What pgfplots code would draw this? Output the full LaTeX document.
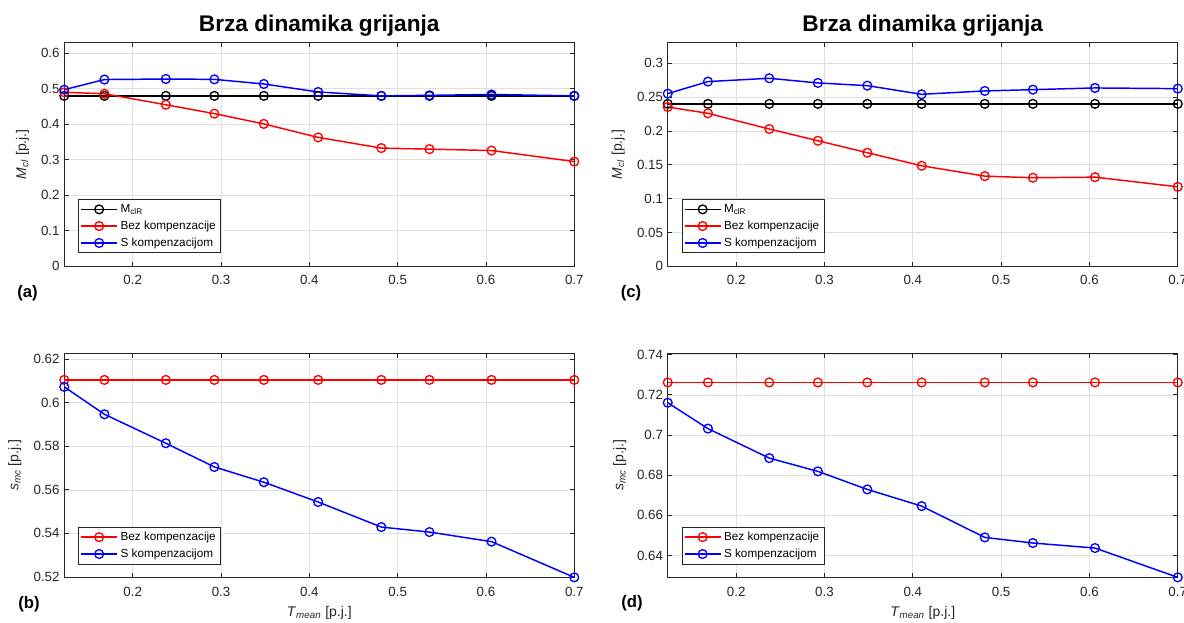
\documentclass[border=0pt]{standalone}
\usepackage{fontspec}
\setmainfont{Liberation Sans}
\usepackage{pgfplots}
\usepackage{pgfplotstable}
\pgfplotsset{compat=1.18}
\definecolor{axgray}{rgb}{0.15,0.15,0.15}
\definecolor{gridgray}{rgb}{0.88,0.88,0.88}
\definecolor{mred}{rgb}{1,0,0}
\definecolor{mblue}{rgb}{0,0,1}

\pgfplotstableread{
x      ref    bez     skomp
0.1225 0.48   0.490   0.4975
0.168  0.48   0.486   0.526
0.2375 0.48   0.455   0.5275
0.2925 0.48   0.430   0.5265
0.3485 0.48   0.401   0.5135
0.41   0.48   0.363   0.491
0.4815 0.48   0.333   0.480
0.536  0.48   0.330   0.4815
0.6063 0.48   0.326   0.484
0.7    0.48   0.295   0.480
}\dataA

\pgfplotstableread{
x      ref    bez     skomp
0.1225 0.24   0.2354  0.2551
0.168  0.24   0.2260  0.2729
0.2375 0.24   0.2028  0.2778
0.2925 0.24   0.1855  0.2709
0.3485 0.24   0.1678  0.2669
0.41   0.24   0.1485  0.2541
0.4815 0.24   0.1332  0.2591
0.536  0.24   0.1308  0.2610
0.6063 0.24   0.1317  0.2635
0.7    0.24   0.1174  0.2625
}\dataC

\pgfplotstableread{
x      bez     skomp
0.1225 0.6105  0.6073
0.168  0.6105  0.5947
0.2375 0.6105  0.5814
0.2925 0.6105  0.5705
0.3485 0.6105  0.5635
0.41   0.6105  0.5544
0.4815 0.6105  0.5429
0.536  0.6105  0.5406
0.6063 0.6105  0.5362
0.7    0.6105  0.5198
}\dataB

\pgfplotstableread{
x      bez     skomp
0.1225 0.7262  0.7161
0.168  0.7262  0.7032
0.2375 0.7262  0.6885
0.2925 0.7262  0.6819
0.3485 0.7262  0.6729
0.41   0.7262  0.6646
0.4815 0.7262  0.6490
0.536  0.7262  0.6462
0.6063 0.7262  0.6437
0.7    0.7262  0.6291
}\dataD

\pgfplotsset{
  mstyle/.style={
    scale only axis, width=382.5pt, height=168pt,
    anchor=north west,
    axis line style={axgray, line width=0.6pt},
    every tick/.style={axgray, line width=0.6pt},
    major tick length=3.5pt,
    tick align=inside,
    xmin=0.1225, xmax=0.7,
    xtick={0.2,0.3,0.4,0.5,0.6,0.7},
    xticklabels={0.2,0.3,0.4,0.5,0.6,0.7},
    grid=major, major grid style={gridgray, line width=0.5pt},
    tick label style={font=\fontsize{10}{12}\selectfont, text=axgray},
    xticklabel style={yshift=-3.5pt},
    /pgf/number format/assume math mode=true,
    scaled ticks=false,
    clip=false,
    legend style={font=\fontsize{8.8}{10.5}\selectfont, draw=axgray, line width=0.6pt,
      at={(0.027,0.058)}, anchor=south west, inner sep=1.5pt, row sep=0.8pt,
      cells={anchor=west}},
    legend image code/.code={\draw[mark repeat=2,mark phase=2,#1] plot coordinates {(0pt,0pt) (13.5pt,0pt) (27pt,0pt)};},
    ylabel style={anchor=center, font=\fontsize{10.5}{12}\selectfont, text=axgray},
    xlabel style={font=\fontsize{10.5}{12}\selectfont, text=axgray},
    title style={at={(0.5,1)}, anchor=base, yshift=2pt, font=\bfseries\fontsize{17}{20}\selectfont},
    every axis plot/.append style={line width=1.1pt, mark=o, mark size=3.3pt, mark options={line width=1pt}},
  }
}

\begin{document}
\begin{tikzpicture}
\path[use as bounding box] (0,0) rectangle (888pt,-466.5pt);

% (a)
\begin{axis}[mstyle, at={(48.2pt,-31.7pt)},
  ymin=0, ymax=0.631,
  ytick={0,0.1,0.2,0.3,0.4,0.5,0.6},
  yticklabels={0,0.1,0.2,0.3,0.4,0.5,0.6},
  ylabel={\textit{M}\textsubscript{\textit{cl}} [p.j.]},
  ylabel style={at={(axis description cs:-0.082,0.5)}},
  title={Brza dinamika grijanja}]
\addplot[black] table[x=x,y=ref] {\dataA};
\addplot[mred] table[x=x,y=bez] {\dataA};
\addplot[mblue] table[x=x,y=skomp] {\dataA};
\legend{M\textsubscript{clR},Bez kompenzacije,S kompenzacijom}
\end{axis}

% (c)
\begin{axis}[mstyle, at={(500.8pt,-31.7pt)},
  ymin=0, ymax=0.331,
  ytick={0,0.05,0.1,0.15,0.2,0.25,0.3},
  yticklabels={0,0.05,0.1,0.15,0.2,0.25,0.3},
  ylabel={\textit{M}\textsubscript{\textit{cl}} [p.j.]},
  ylabel style={at={(axis description cs:-0.097,0.5)}},
  title={Brza dinamika grijanja}]
\addplot[black] table[x=x,y=ref] {\dataC};
\addplot[mred] table[x=x,y=bez] {\dataC};
\addplot[mblue] table[x=x,y=skomp] {\dataC};
\legend{M\textsubscript{clR},Bez kompenzacije,S kompenzacijom}
\end{axis}

% (b)
\begin{axis}[mstyle, at={(48.2pt,-265pt)},
  ymin=0.5198, ymax=0.6227,
  ytick={0.52,0.54,0.56,0.58,0.6,0.62},
  yticklabels={0.52,0.54,0.56,0.58,0.6,0.62},
  ylabel={\textit{s}\textsubscript{\textit{mc}} [p.j.]},
  ylabel style={at={(axis description cs:-0.097,0.5)}},
  xlabel={\textit{T}\textsubscript{\textit{mean}} [p.j.]},
  xlabel style={at={(axis description cs:0.5,-0.176)}, anchor=base}]
\addplot[mred] table[x=x,y=bez] {\dataB};
\addplot[mblue] table[x=x,y=skomp] {\dataB};
\legend{Bez kompenzacije,S kompenzacijom}
\end{axis}

% (d)
\begin{axis}[mstyle, at={(500.8pt,-265pt)},
  ymin=0.6291, ymax=0.7407,
  ytick={0.64,0.66,0.68,0.7,0.72,0.74},
  yticklabels={0.64,0.66,0.68,0.7,0.72,0.74},
  ylabel={\textit{s}\textsubscript{\textit{mc}} [p.j.]},
  ylabel style={at={(axis description cs:-0.094,0.5)}},
  xlabel={\textit{T}\textsubscript{\textit{mean}} [p.j.]},
  xlabel style={at={(axis description cs:0.5,-0.176)}, anchor=base}]
\addplot[mred] table[x=x,y=bez] {\dataD};
\addplot[mblue] table[x=x,y=skomp] {\dataD};
\legend{Bez kompenzacije,S kompenzacijom}
\end{axis}

\node[font=\bfseries\fontsize{12.5}{14}\selectfont] at (20.6pt,-219.75pt) {(a)};
\node[font=\bfseries\fontsize{12.5}{14}\selectfont] at (21.75pt,-453pt) {(b)};
\node[font=\bfseries\fontsize{12.5}{14}\selectfont] at (473.25pt,-219.75pt) {(c)};
\node[font=\bfseries\fontsize{12.5}{14}\selectfont] at (474pt,-452.6pt) {(d)};
\end{tikzpicture}
\end{document}
